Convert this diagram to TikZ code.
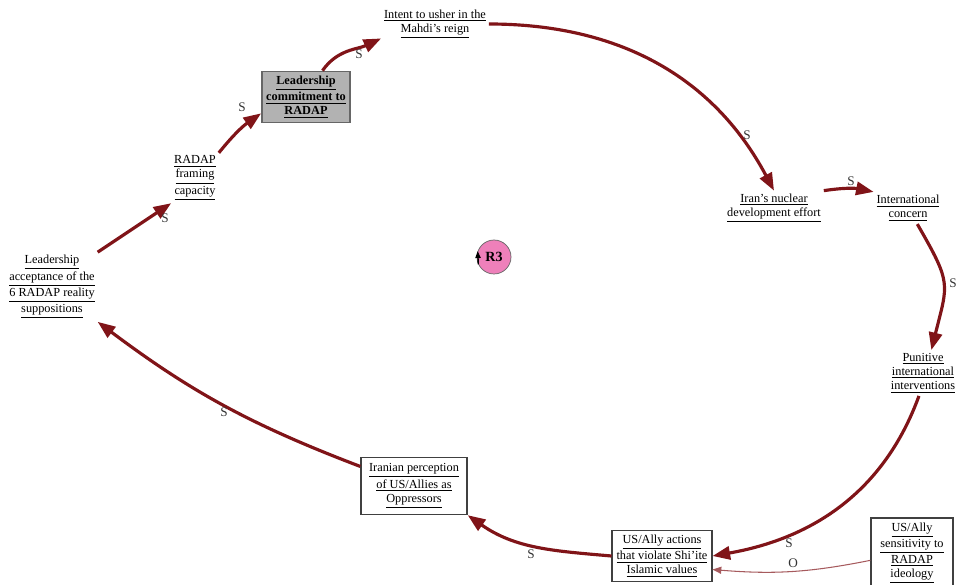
\documentclass[tikz,border=0pt]{standalone}
\usepackage{fontspec}
\setmainfont{Liberation Serif}
\usetikzlibrary{arrows.meta,positioning}
\definecolor{linkred}{RGB}{128,20,24}
\definecolor{loopink}{RGB}{238,128,186}
\newcommand{\lnk}[1]{\underline{#1}}

\begin{document}
\begin{tikzpicture}[x=0.02cm, y=0.02cm,
        var_node/.style={align=center, inner sep=1.5pt, font=\fontsize{7}{8}\selectfont},
        box_node/.style={var_node, draw=black!75, thick, inner sep=2.5pt},
        key_node/.style={box_node, fill=black!30, draw=black!60, font=\fontsize{7}{8}\selectfont\bfseries},
        loop_node/.style={circle, draw=black!60, fill=loopink, minimum size=0.68cm, inner sep=0pt, font=\fontsize{8}{9}\selectfont\bfseries},
        link/.style={color=linkred, line width=1.8pt, -{Triangle[length=10pt,width=7.5pt]}},
        thin_link/.style={color=linkred!70, line width=0.6pt, -{Triangle[length=5pt,width=4pt]}},
        sign/.style={font=\fontsize{7.5}{8}\selectfont, text=black!80, inner sep=0pt},
        ]
            \useasboundingbox (0,0) rectangle (957,585);

            % variables of the loop
            \node[var_node]  (accept)      at (52,298)  {\lnk{Leadership}\\\lnk{acceptance of the}\\\lnk{6 RADAP reality}\\\lnk{suppositions}};
            \node[var_node]  (framing)     at (195,407) {\lnk{RADAP}\\\lnk{framing}\\\lnk{capacity}};
            \node[key_node]  (commit)      at (306,488) {\lnk{Leadership}\\\lnk{commitment to}\\\lnk{RADAP}};
            \node[var_node]  (mahdi)       at (435,561) {\lnk{Intent to usher in the}\\\lnk{Mahdi's reign}};
            \node[var_node]  (nuclear)     at (774,377) {\lnk{Iran's nuclear}\\\lnk{development effort}};
            \node[var_node]  (concern)     at (908,377) {\lnk{International}\\\lnk{concern}};
            \node[var_node]  (punitive)    at (923,212) {\lnk{Punitive}\\\lnk{international}\\\lnk{interventions}};
            \node[box_node]  (actions)     at (662,29)  {\lnk{US/Ally actions}\\\lnk{that violate Shi'ite}\\\lnk{Islamic values}};
            \node[box_node, minimum width=1.64cm] (sensitivity) at (912,32)  {\lnk{US/Ally}\\\lnk{sensitivity to}\\\lnk{RADAP}\\\lnk{ideology}};
            \node[box_node, minimum height=1.14cm, minimum width=2.12cm] (perception) at (414,99) {\lnk{Iranian perception}\\\lnk{of US/Allies as}\\\lnk{Oppressors}};

            % loop marker
            \node[loop_node] (r3) at (494,328) {R3};
            \draw[black, thick, -{Triangle[length=4pt,width=3pt]}] (r3.205) -- (r3.160);

            % links
            \draw[link] (accept.north east) -- (framing.south west);
            \draw[link] (framing.north east) to[bend left=8] (commit.200);
            \draw[link] (commit.58) to[out=55, in=205] (mahdi.195);
            \draw[link] (mahdi.east) to[out=0, in=118] (nuclear.north);
            \draw[link] (nuclear.north east) to[bend left=10] (concern.north west);
            \draw[link] (concern.-60) to[out=-60, in=76, looseness=1.4] (punitive.70);
            \draw[link] (punitive.-100) to[out=-110, in=10] (actions.east);
            \draw[thin_link] (sensitivity.190) to[bend left=8] (actions.-15);
            \draw[link] (actions.west) to[out=175, in=-35] (perception.south east);
            \draw[link] (perception.160) to[bend left=8] (accept.south east);

            % polarities
            \node[sign] (s_1)  at (165,367) {S};
            \node[sign] (s_2)  at (242,478) {S};
            \node[sign] (s_3)  at (359,531) {S};
            \node[sign] (s_4)  at (747,450) {S};
            \node[sign] (s_5)  at (851,404) {S};
            \node[sign] (s_6)  at (953,302) {S};
            \node[sign] (s_7)  at (789,42)  {S};
            \node[sign] (o_8)  at (793,22)  {O};
            \node[sign] (s_9)  at (531,31)  {S};
            \node[sign] (s_10) at (224,173) {S};
\end{tikzpicture}
\end{document}
